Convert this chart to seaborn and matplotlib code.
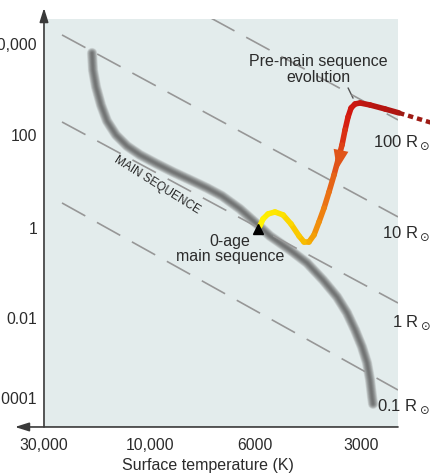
import numpy as np
import pandas as pd
import matplotlib
matplotlib.use('Agg')
import matplotlib.pyplot as plt
import seaborn as sns
from matplotlib.collections import LineCollection
from matplotlib.colors import LinearSegmentedColormap

# main sequence (surface temperature K, luminosity L_sun)
ms_temp = [18210, 18030, 17470, 16590, 15590, 14200, 12660, 11060, 9654, 8937, 8229,
           7580, 7054, 6465, 5900, 5453, 4782, 4279, 3852, 3513, 3291, 3123, 2983,
           2887, 2830, 2793, 2775]
ms_lum = [6340, 2685, 1135, 456, 203, 100, 57.9, 37.2, 23.8, 16.0, 10.8,
          7.24, 4.88, 2.56, 1.16, 0.664, 0.324, 0.167, 0.0698, 0.0293, 0.0129, 0.00501,
          0.00188, 7.5e-4, 2.82e-4, 1.06e-4, 7.1e-5]

# pre-main sequence track of a 1 solar mass star
track_temp = [2340, 2566, 2830, 3022, 3123, 3205, 3269, 3334, 3401, 3491, 3584, 3704,
              3826, 3955, 4087, 4224, 4364, 4508, 4751, 5007, 5278, 5525, 5710, 5825]
track_lum = [305, 373, 456, 505, 480, 392, 249, 129, 61, 29, 13.8, 5.94,
             2.69, 1.35, 0.699, 0.489, 0.489, 0.664, 1.22, 1.91, 2.21, 2.0, 1.56, 1.10]
early_temp = [1885, 2340]
early_lum = [184, 305]
arrow_base = (3422, 47.6)
arrow_tip = (3513, 17.7)
zams_point = (5900, 0.95)

# lines of constant radius
radius_labels = ['100 R$_\\odot$', '10 R$_\\odot$', '1 R$_\\odot$', '0.1 R$_\\odot$']
radius_temp = [24880, 2356]
radius_lum_hot = [2.25e6, 15800, 193, 3.45]
radius_lum_cool = [214, 1.73, 0.0215, 1.58e-4]

x_ticks = [30000, 10000, 6000, 3000]
x_tick_labels = ['30,000', '10,000', '6000', '3000']
y_ticks = [1e4, 1e2, 1, 1e-2, 1e-4]
y_tick_labels = ['10,000', '100', '1', '0.01', '0.0001']


def piecewise(u, xs, ys):
    u = np.asarray(u, dtype=float)
    out = np.interp(u, xs, ys)
    lo = u < xs[0]
    hi = u > xs[-1]
    out[lo] = ys[0] + (u[lo] - xs[0]) * (ys[1] - ys[0]) / (xs[1] - xs[0])
    out[hi] = ys[-1] + (u[hi] - xs[-1]) * (ys[-1] - ys[-2]) / (xs[-1] - xs[-2])
    return out


# the textbook axes are not truly logarithmic: ticks are spaced by hand
tx_knots = np.log10([3000, 6000, 10000, 30000])
tx_pos = [0, 1, 2, 3]
ly_knots = [-4, -2, 0, 2, 4]
ly_pos = [29, 109, 199, 292, 383]


def fwd_x(t):
    with np.errstate(all='ignore'):
        return piecewise(np.log10(np.clip(t, 1e-9, None)), tx_knots, tx_pos)


def inv_x(p):
    return 10 ** piecewise(p, tx_pos, tx_knots)


def fwd_y(v):
    with np.errstate(all='ignore'):
        return piecewise(np.log10(np.clip(v, 1e-30, None)), ly_knots, ly_pos)


def inv_y(p):
    return 10 ** piecewise(p, ly_pos, ly_knots)


sns.set_style('white')
plt.rcParams['font.family'] = ['Liberation Sans', 'DejaVu Sans']
text_col = '#2b2b2b'
axis_col = '#505050'

fig = plt.figure(figsize=(4.3, 4.75), dpi=100)
ax = fig.add_axes([0.1023, 0.1011, 0.8233, 0.8589])
ax.set_facecolor('#e3ecec')
ax.set_xscale('function', functions=(fwd_x, inv_x))
ax.set_yscale('function', functions=(fwd_y, inv_y))

# dashed lines of constant radius
for lh, lc in zip(radius_lum_hot, radius_lum_cool):
    seg = pd.DataFrame({'temp': radius_temp, 'lum': [lh, lc]})
    sns.lineplot(data=seg, x='temp', y='lum', sort=False, estimator=None, ax=ax,
                 color='#979797', lw=1.2, linestyle=(0, (16, 8)), zorder=2.5, legend=False)

# blurred main sequence band
ms = pd.DataFrame({'temp': ms_temp, 'lum': ms_lum})
for w in np.linspace(7.5, 1, 16):
    sns.lineplot(data=ms, x='temp', y='lum', sort=False, estimator=None, ax=ax,
                 color='#4a4a4a', lw=w, alpha=0.075, solid_capstyle='round',
                 solid_joinstyle='round', zorder=2, legend=False)

# pre-main sequence track, coloured red -> yellow
track_cmap = LinearSegmentedColormap.from_list('track', [
    (0.0, '#b01512'), (0.25, '#d4170f'), (0.42, '#e2571a'), (0.55, '#ee8210'),
    (0.7, '#f7b500'), (0.85, '#fde000'), (1.0, '#fff200')])
pts = np.column_stack([track_temp, track_lum])
segs = np.stack([pts[:-1], pts[1:]], axis=1)
lc = LineCollection(segs, colors=track_cmap(np.linspace(0, 1, len(segs))),
                    linewidths=4, capstyle='round', joinstyle='round', zorder=5)
lc.set_clip_on(False)
ax.add_collection(lc, autolim=False)
ax.plot(early_temp, early_lum, color='#9e1b14', lw=3.2, linestyle=(0, (1.2, 0.9)),
        clip_on=False, zorder=5)
ax.annotate('', xy=arrow_tip, xytext=arrow_base,
            arrowprops=dict(arrowstyle='-|>,head_length=0.4,head_width=0.15',
                            color='#e05418', lw=0, mutation_scale=36,
                            shrinkA=0, shrinkB=0), zorder=6)
ax.plot(*zams_point, marker='^', ms=7.5, color='black', zorder=7)

ax.set_xlim(30000, 2356)
ax.set_ylim(1.88e-5, 35400)
ax.minorticks_off()
ax.set_xticks(x_ticks, labels=x_tick_labels)
ax.set_yticks(y_ticks, labels=y_tick_labels)
ax.tick_params(direction='in', length=8, width=1.1, color=axis_col,
               labelsize=11.3, labelcolor=text_col)
ax.tick_params(axis='x', pad=8)
ax.tick_params(axis='y', pad=5)
ax.set_xlabel('Surface temperature (K)', fontsize=11.5, color=text_col)
ax.set_ylabel('')
ax.xaxis.set_label_coords(0.463, -0.076)

# axes with arrow heads
for s in ax.spines.values():
    s.set_visible(False)
arrow_kw = dict(arrowstyle='-|>,head_length=0.7,head_width=0.22', color='#3a3a3a',
                lw=1.2, shrinkA=0, shrinkB=0, mutation_scale=12)
ax.annotate('', xy=(0, 1.027), xytext=(0, 0), xycoords='axes fraction',
            arrowprops=arrow_kw, annotation_clip=False)
ax.annotate('', xy=(-0.082, 0), xytext=(1, 0), xycoords='axes fraction',
            arrowprops=arrow_kw, annotation_clip=False)

# annotations
label_xy = [(0.929, 0.686), (0.955, 0.463), (0.983, 0.245), (0.941, 0.039)]
for lab, (fx, fy) in zip(radius_labels, label_xy):
    ax.text(fx, fy, lab, transform=ax.transAxes, fontsize=12, color=text_col,
            va='baseline', ha='left', clip_on=False, zorder=8)

ax.text(0.774, 0.877, 'Pre-main sequence\nevolution', transform=ax.transAxes,
        fontsize=11.5, color=text_col, ha='center', va='center', linespacing=1.1)
ax.plot([0.859, 0.873], [0.831, 0.806], transform=ax.transAxes, color='#555555', lw=1)
ax.text(0.525, 0.436, '0-age\nmain sequence', transform=ax.transAxes,
        fontsize=11.5, color=text_col, ha='center', va='center', linespacing=1.05)
ax.text(0.319, 0.593, 'MAIN SEQUENCE', transform=ax.transAxes, fontsize=8.5,
        color=text_col, ha='center', va='center', rotation=-32,
        rotation_mode='anchor')

fig.savefig('out.png', dpi=100, facecolor='white')
